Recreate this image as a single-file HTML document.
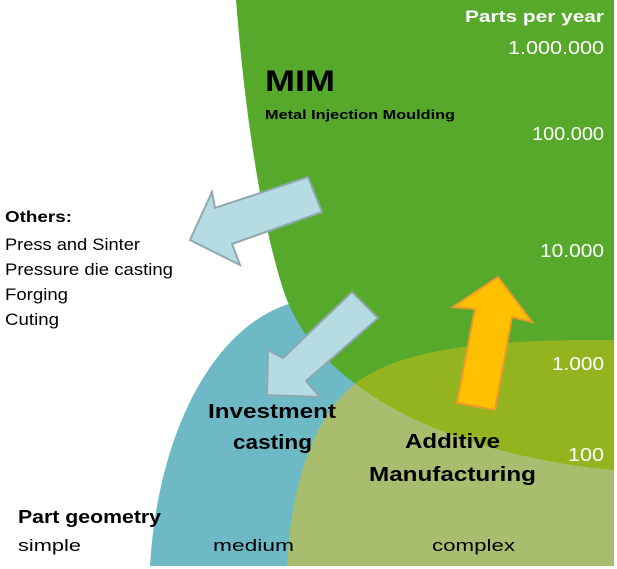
<!DOCTYPE html>
<html><head><meta charset="utf-8"><style>
html,body{margin:0;padding:0;background:#fff;}
svg{display:block;}
text{font-family:"Liberation Sans",sans-serif;}
</style></head><body>
<svg width="617" height="569" viewBox="0 0 617 569" xmlns="http://www.w3.org/2000/svg">
<defs>
<clipPath id="am"><path d="M287,566 C292,470 320,410 357,382 C410,345 500,340 614,340 L614,566 Z"/></clipPath>
</defs>
<!-- blue investment casting -->
<path d="M150,566 C158,430 215,325 292,303 L460,300 L460,566 Z" fill="#6dbac6"/>
<!-- green MIM -->
<path id="mim" d="M236,0 L614,0 L614,470 C540,464 430,440 357,385 C320,358 298,330 285,295 C268,245 248,150 236,0 Z" fill="#56a92b"/>
<!-- AM light -->
<path d="M287,566 C292,470 320,410 357,382 C410,345 500,340 614,340 L614,566 Z" fill="#a9bd6f"/>
<!-- intersection -->
<path clip-path="url(#am)" d="M236,0 L614,0 L614,470 C540,464 430,440 357,385 C320,358 298,330 285,295 C268,245 248,150 236,0 Z" fill="#93b41f"/>
<!-- arrows -->
<polygon points="190,240 212,192 215,208 308,177 322,212 232,244 240,265" fill="#b5dce3" stroke="#8fa8b0" stroke-width="2"/>
<polygon points="267,395 268,350 283,358 352,292 378,318 306,381 320,397" fill="#b5dce3" stroke="#8fa8b0" stroke-width="2"/>
<polygon points="498,277 532,322 512,317 495,410 457,403 475,309 453,307" fill="#ffc000" stroke="#ee9a2a" stroke-width="2"/>
<!-- labels -->
<g fill="#fff">
<text x="465" y="22" font-size="17" font-weight="bold" textLength="139" lengthAdjust="spacingAndGlyphs">Parts per year</text>
<text x="508" y="54" font-size="18" textLength="96" lengthAdjust="spacingAndGlyphs">1.000.000</text>
<text x="532" y="140" font-size="18" textLength="72" lengthAdjust="spacingAndGlyphs">100.000</text>
<text x="540" y="257" font-size="18" textLength="64" lengthAdjust="spacingAndGlyphs">10.000</text>
<text x="552" y="370" font-size="18" textLength="52" lengthAdjust="spacingAndGlyphs">1.000</text>
<text x="568" y="461" font-size="18" textLength="36" lengthAdjust="spacingAndGlyphs">100</text>
</g>
<g fill="#000">
<text x="265" y="91" font-size="30" font-weight="bold" textLength="70" lengthAdjust="spacingAndGlyphs">MIM</text>
<text x="265" y="119" font-size="13" font-weight="bold" textLength="190" lengthAdjust="spacingAndGlyphs">Metal Injection Moulding</text>
<text x="5" y="222" font-size="16" font-weight="bold" textLength="67" lengthAdjust="spacingAndGlyphs">Others:</text>
<text x="5" y="250" font-size="17" textLength="135" lengthAdjust="spacingAndGlyphs">Press and Sinter</text>
<text x="5" y="275" font-size="17" textLength="168" lengthAdjust="spacingAndGlyphs">Pressure die casting</text>
<text x="5" y="300" font-size="17" textLength="63" lengthAdjust="spacingAndGlyphs">Forging</text>
<text x="5" y="325" font-size="17" textLength="54" lengthAdjust="spacingAndGlyphs">Cuting</text>
<text x="208" y="418" font-size="20" font-weight="bold" textLength="128" lengthAdjust="spacingAndGlyphs">Investment</text>
<text x="233" y="449" font-size="20" font-weight="bold" textLength="79" lengthAdjust="spacingAndGlyphs">casting</text>
<text x="405" y="448" font-size="20" font-weight="bold" textLength="95" lengthAdjust="spacingAndGlyphs">Additive</text>
<text x="369" y="481" font-size="20" font-weight="bold" textLength="167" lengthAdjust="spacingAndGlyphs">Manufacturing</text>
<text x="18" y="523" font-size="18" font-weight="bold" textLength="143" lengthAdjust="spacingAndGlyphs">Part geometry</text>
<text x="18" y="551" font-size="17" textLength="63" lengthAdjust="spacingAndGlyphs">simple</text>
<text x="213" y="551" font-size="17" textLength="81" lengthAdjust="spacingAndGlyphs">medium</text>
<text x="432" y="551" font-size="17" textLength="83" lengthAdjust="spacingAndGlyphs">complex</text>
</g>
</svg>
</body></html>
